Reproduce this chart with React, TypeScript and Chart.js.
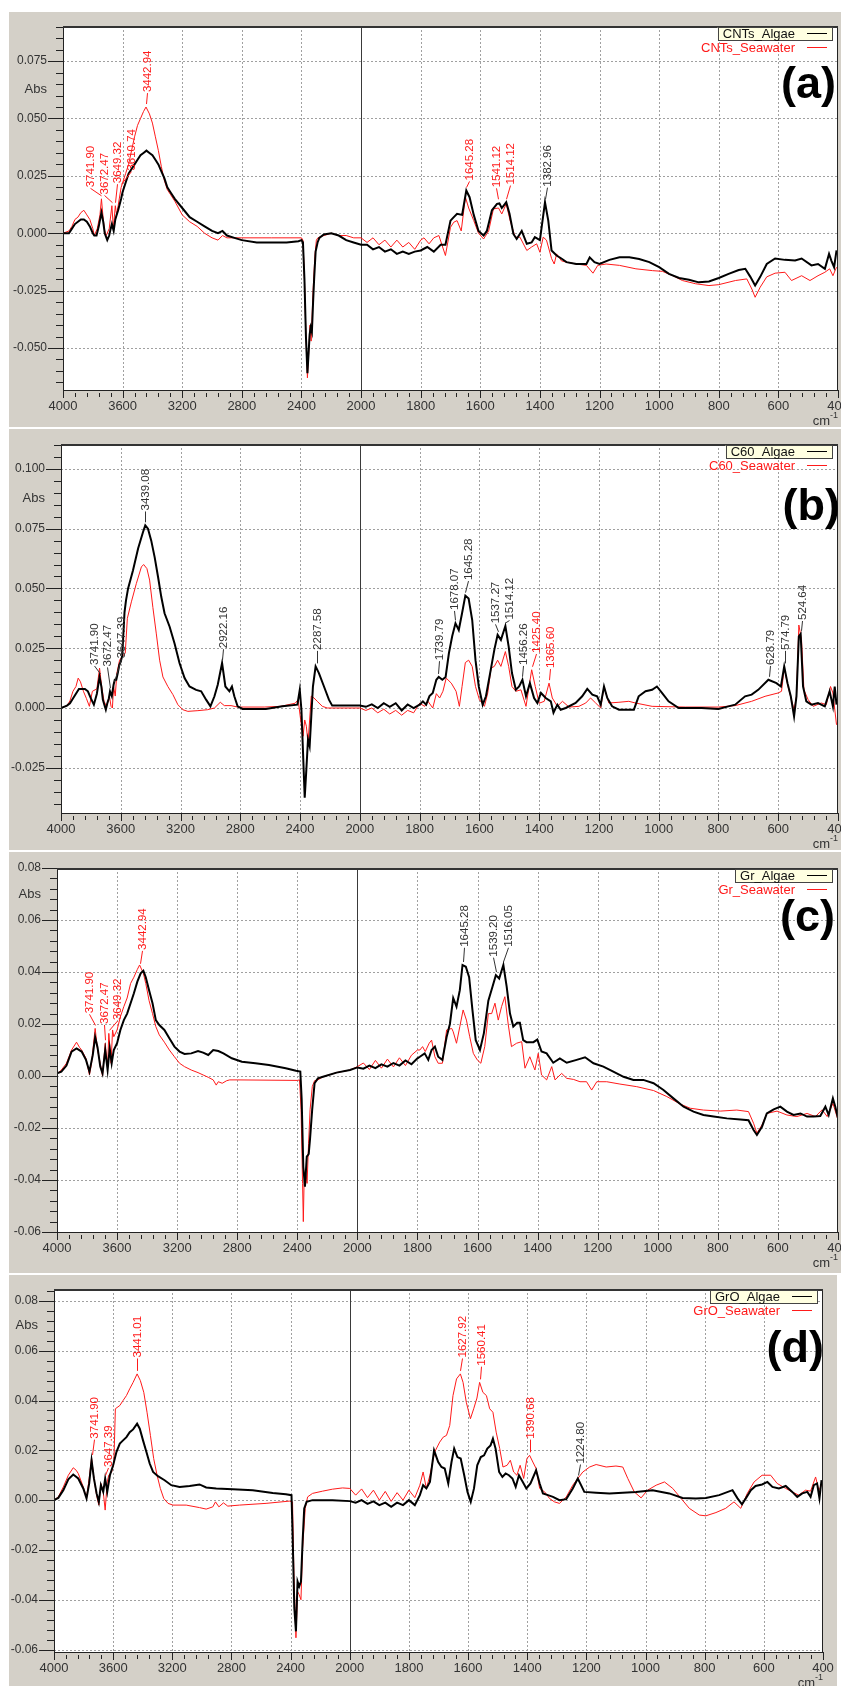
import React, { useEffect, useRef } from 'react';
import { Chart, registerables } from 'chart.js';

Chart.register(...registerables);

const FONT = '"Liberation Sans", Arial, Helvetica, sans-serif';

// ---------- Panel (a): CNTs ----------
const A_ALGAE: [number, number][] = [
  [4000, 0.000], [3960, 0.000], [3940, 0.002], [3920, 0.004], [3880, 0.006], [3860, 0.006], [3840, 0.005], [3820, 0.003],
  [3800, 0.000], [3790, -0.001], [3775, -0.001], [3760, 0.003], [3742, 0.009], [3730, 0.005], [3720, 0.000], [3703, -0.003],
  [3690, -0.001], [3680, 0.002], [3672, 0.004], [3660, 0.001], [3649, 0.006], [3640, 0.008], [3630, 0.010], [3610, 0.015],
  [3600, 0.018], [3580, 0.022], [3560, 0.026], [3540, 0.028], [3520, 0.030], [3500, 0.032], [3480, 0.034], [3460, 0.035],
  [3440, 0.036], [3420, 0.035], [3400, 0.034], [3380, 0.032], [3360, 0.030], [3340, 0.027], [3320, 0.024], [3300, 0.020],
  [3280, 0.018], [3250, 0.015], [3200, 0.011], [3150, 0.007], [3100, 0.005], [3050, 0.003], [3000, 0.001], [2960, 0.000],
  [2930, 0.001], [2900, -0.001], [2850, -0.002], [2800, -0.003], [2700, -0.004], [2600, -0.004], [2500, -0.004], [2420, -0.0035],
  [2400, -0.003], [2390, -0.004], [2380, -0.020], [2370, -0.045], [2360, -0.061], [2352, -0.052], [2345, -0.044], [2338, -0.041],
  [2330, -0.043], [2322, -0.030], [2315, -0.020], [2305, -0.008], [2292, -0.004], [2280, -0.002], [2250, -0.0005], [2200, 0.000],
  [2150, -0.001], [2100, -0.003], [2050, -0.004], [2000, -0.005], [1980, -0.005], [1960, -0.007], [1940, -0.006], [1920, -0.008],
  [1900, -0.007], [1880, -0.009], [1860, -0.008], [1840, -0.009], [1820, -0.008], [1800, -0.0075], [1778, -0.006], [1756, -0.008],
  [1733, -0.005], [1717, -0.005], [1700, 0.0055], [1689, 0.007], [1678, 0.0085], [1661, 0.008], [1647, 0.0186], [1636, 0.0157],
  [1622, 0.008], [1606, 0.001], [1589, -0.001], [1578, 0.001], [1561, 0.010], [1544, 0.0128], [1536, 0.013], [1528, 0.011],
  [1513, 0.0135], [1502, 0.0085], [1489, -0.0003], [1478, -0.0025], [1461, 0.001], [1444, -0.0046], [1428, -0.004], [1417, -0.0017],
  [1400, -0.003], [1383, 0.0135], [1372, 0.0055], [1361, -0.0075], [1344, -0.0097], [1328, -0.011], [1311, -0.0126], [1278, -0.0134],
  [1244, -0.0134], [1233, -0.0105], [1217, -0.0126], [1200, -0.0134], [1167, -0.0116], [1133, -0.0105], [1100, -0.0105], [1067, -0.0112],
  [1033, -0.0126], [1000, -0.0148], [967, -0.0177], [933, -0.0195], [900, -0.0203], [867, -0.0214], [833, -0.021], [800, -0.0195],
  [767, -0.0177], [733, -0.016], [711, -0.0155], [694, -0.019], [678, -0.0228], [661, -0.019], [639, -0.0134], [611, -0.011],
  [578, -0.0116], [544, -0.0119], [522, -0.011], [489, -0.014], [467, -0.0134], [444, -0.0155], [430, -0.009], [422, -0.012],
  [413, -0.0148], [405, -0.0075],
];
const A_SEA: [number, number][] = [
  [4000, 0.000], [3960, 0.001], [3940, 0.003], [3920, 0.006], [3900, 0.007], [3880, 0.009], [3860, 0.010], [3840, 0.008],
  [3820, 0.006], [3800, 0.002], [3790, -0.001], [3770, 0.002], [3752, 0.008], [3742, 0.015], [3730, 0.006], [3720, 0.001],
  [3710, -0.001], [3690, 0.002], [3672, 0.012], [3662, 0.002], [3649, 0.012], [3640, 0.008], [3630, 0.012], [3610, 0.020],
  [3600, 0.022], [3580, 0.026], [3560, 0.030], [3540, 0.036], [3520, 0.042], [3500, 0.047], [3480, 0.050], [3460, 0.053],
  [3443, 0.055], [3420, 0.052], [3400, 0.048], [3380, 0.042], [3360, 0.036], [3340, 0.029], [3320, 0.023], [3300, 0.019],
  [3280, 0.017], [3250, 0.014], [3200, 0.008], [3150, 0.005], [3100, 0.003], [3050, 0.000], [3000, -0.002], [2960, -0.003],
  [2930, -0.001], [2900, -0.002], [2800, -0.002], [2600, -0.002], [2400, -0.002], [2390, -0.003], [2380, -0.020], [2370, -0.045],
  [2360, -0.063], [2350, -0.050], [2343, -0.040], [2335, -0.047], [2322, -0.025], [2310, -0.010], [2300, -0.003], [2290, -0.002],
  [2250, -0.001], [2200, 0.000], [2150, -0.001], [2100, -0.001], [2050, -0.002], [2000, -0.002], [1980, -0.004], [1960, -0.002],
  [1940, -0.005], [1920, -0.003], [1900, -0.006], [1880, -0.003], [1860, -0.006], [1840, -0.004], [1820, -0.007], [1800, -0.003],
  [1789, -0.002], [1772, -0.0046], [1756, -0.002], [1739, -0.001], [1717, -0.0097], [1700, 0.0026], [1689, 0.0048], [1678, 0.0055],
  [1664, 0.001], [1650, 0.0157], [1639, 0.011], [1622, 0.0055], [1606, 0.000], [1589, -0.0025], [1572, 0.001], [1556, 0.0106],
  [1539, 0.011], [1528, 0.0084], [1513, 0.0128], [1500, 0.0055], [1483, -0.0017], [1467, -0.0017], [1444, -0.0075], [1428, -0.006],
  [1411, -0.0046], [1400, -0.0083], [1389, -0.0017], [1378, -0.003], [1361, -0.011], [1352, -0.0134], [1344, -0.009], [1328, -0.012],
  [1311, -0.0126], [1278, -0.0134], [1244, -0.014], [1222, -0.0174], [1206, -0.014], [1178, -0.0134], [1133, -0.014], [1078, -0.0155],
  [1022, -0.0163], [989, -0.0166], [956, -0.0184], [922, -0.0206], [878, -0.022], [833, -0.0228], [800, -0.0224], [744, -0.0206],
  [706, -0.0199], [689, -0.0243], [678, -0.0279], [661, -0.0235], [639, -0.019], [611, -0.0174], [578, -0.017], [556, -0.0206],
  [522, -0.0185], [494, -0.0206], [467, -0.0185], [444, -0.017], [428, -0.0155], [417, -0.0185], [405, -0.0148],
];
// [label, colour, peak wavenumber, peak value, text wavenumber, text start value]
const A_PEAKS: [string, string, number, number, number, number][] = [
  ['3741.90', 'r', 3742, 0.015, 3816, 0.020],
  ['3672.47', 'r', 3672, 0.012, 3726, 0.0169],
  ['3649.32', 'r', 3649, 0.012, 3640, 0.0218],
  ['3610.74', 'r', 3610, 0.020, 3546, 0.0273],
  ['3442.94', 'r', 3443, 0.055, 3436, 0.0615],
  ['1645.28', 'r', 1647, 0.0186, 1639, 0.023],
  ['1541.12', 'r', 1541, 0.0135, 1547, 0.020],
  ['1514.12', 'r', 1514, 0.0135, 1502, 0.0212],
  ['1382.96', 'k', 1383, 0.0135, 1376, 0.0203],
];

// ---------- Panel (b): C60 ----------
const B_ALGAE: [number, number][] = [
  [4000, 0.000], [3960, 0.001], [3940, 0.002], [3920, 0.004], [3900, 0.006], [3880, 0.008], [3860, 0.008], [3840, 0.008],
  [3820, 0.007], [3800, 0.004], [3780, 0.0014], [3760, 0.006], [3742, 0.013], [3730, 0.009], [3720, 0.0035], [3710, 0.0014],
  [3700, -0.0007], [3690, 0.002], [3680, 0.004], [3672, 0.007], [3660, 0.005], [3648, 0.0097], [3640, 0.0118], [3630, 0.0118],
  [3620, 0.0146], [3610, 0.018], [3600, 0.0194], [3590, 0.022], [3575, 0.040], [3565, 0.045], [3551, 0.050], [3518, 0.0576],
  [3484, 0.0667], [3451, 0.0736], [3436, 0.0764], [3418, 0.075], [3396, 0.070], [3373, 0.063], [3351, 0.055], [3329, 0.0465],
  [3307, 0.0396], [3273, 0.034], [3240, 0.027], [3207, 0.0188], [3173, 0.0125], [3140, 0.009], [3096, 0.0076], [3062, 0.007],
  [3029, 0.0035], [3000, 0.0007], [2973, 0.0049], [2951, 0.0097], [2922, 0.0188], [2900, 0.009], [2873, 0.007], [2856, 0.009],
  [2840, 0.0049], [2818, 0.0007], [2785, -0.0004], [2629, -0.0004], [2518, 0.0007], [2418, 0.0014], [2402, 0.0076], [2391, -0.0007],
  [2380, -0.019], [2369, -0.0375], [2358, -0.0257], [2347, -0.0132], [2336, -0.016], [2325, -0.0035], [2314, 0.009], [2296, 0.0174],
  [2274, 0.0146], [2240, 0.009], [2207, 0.0035], [2185, 0.001], [2100, 0.001], [2000, 0.001], [1980, 0.0005], [1960, 0.0015],
  [1940, 0.000], [1920, 0.002], [1900, 0.0005], [1880, 0.002], [1860, -0.001], [1840, 0.0015], [1820, 0.000], [1800, 0.0014],
  [1789, 0.0028], [1778, 0.0014], [1767, 0.005], [1756, 0.0063], [1744, 0.0118], [1736, 0.013], [1724, 0.0118], [1713, 0.013],
  [1702, 0.0229], [1691, 0.030], [1680, 0.0354], [1669, 0.0326], [1658, 0.0396], [1647, 0.047], [1636, 0.0458], [1624, 0.0368],
  [1613, 0.020], [1602, 0.009], [1589, 0.0014], [1578, 0.0049], [1564, 0.0146], [1550, 0.0243], [1539, 0.0306], [1528, 0.0285],
  [1513, 0.0343], [1502, 0.0257], [1491, 0.0146], [1478, 0.0076], [1467, 0.009], [1456, 0.0118], [1444, 0.0049], [1431, 0.0104],
  [1417, 0.0042], [1406, 0.0021], [1394, 0.0063], [1378, 0.0042], [1361, 0.0028], [1352, -0.002], [1339, 0.0014], [1328, -0.0007],
  [1311, 0.000], [1278, 0.0021], [1256, 0.0049], [1239, 0.008], [1222, 0.0056], [1206, 0.0049], [1194, 0.0014], [1183, 0.009],
  [1172, 0.0042], [1156, 0.0007], [1133, -0.0007], [1100, -0.0007], [1083, -0.0007], [1067, 0.0049], [1044, 0.007], [1022, 0.0076],
  [1006, 0.009], [989, 0.0063], [967, 0.0028], [933, 0.000], [856, 0.000], [800, -0.0004], [767, 0.0007], [744, 0.0014],
  [711, 0.0049], [689, 0.0056], [667, 0.0076], [633, 0.0118], [606, 0.0104], [591, 0.009], [580, 0.0174], [569, 0.0104],
  [558, 0.0049], [547, -0.0035], [539, 0.0049], [531, 0.030], [525, 0.031], [517, 0.009], [506, 0.0028], [489, 0.0014],
  [467, 0.0021], [444, 0.0007], [428, 0.007], [417, 0.0007], [411, 0.009], [405, 0.0014],
];
const B_SEA: [number, number][] = [
  [4000, 0.000], [3960, 0.001], [3940, 0.003], [3920, 0.007], [3900, 0.009], [3885, 0.0125], [3870, 0.011], [3850, 0.007],
  [3830, 0.004], [3810, 0.0007], [3790, 0.007], [3760, 0.008], [3742, 0.0167], [3728, 0.009], [3712, 0.0028], [3695, 0.0007],
  [3676, 0.005], [3665, 0.0007], [3656, 0.000], [3648, 0.009], [3637, 0.005], [3626, 0.0146], [3608, 0.020], [3590, 0.0215],
  [3570, 0.023], [3556, 0.0375], [3529, 0.0444], [3496, 0.052], [3462, 0.059], [3447, 0.060], [3425, 0.0583], [3407, 0.0535],
  [3385, 0.042], [3362, 0.031], [3340, 0.020], [3318, 0.013], [3285, 0.009], [3251, 0.0056], [3218, 0.0014], [3185, -0.0007],
  [3151, -0.0014], [3084, -0.0011], [3018, -0.0007], [2973, 0.000], [2934, 0.0024], [2907, 0.001], [2862, 0.001], [2818, 0.0004],
  [2640, 0.0004], [2530, 0.0007], [2433, 0.002], [2413, 0.0035], [2396, -0.005], [2380, -0.0118], [2369, -0.005], [2358, -0.0076],
  [2347, -0.0146], [2336, -0.005], [2325, 0.005], [2307, 0.0042], [2285, 0.0028], [2251, 0.0007], [2218, 0.000], [2100, 0.000],
  [2000, 0.000], [1980, -0.001], [1960, 0.000], [1940, -0.002], [1920, -0.0005], [1900, -0.0025], [1880, -0.001], [1860, -0.003],
  [1840, -0.001], [1820, -0.002], [1800, 0.002], [1783, 0.0007], [1772, 0.0028], [1756, 0.000], [1744, 0.006], [1733, 0.0042],
  [1722, 0.007], [1711, 0.0125], [1694, 0.0104], [1678, 0.007], [1667, 0.0007], [1658, 0.009], [1647, 0.019], [1636, 0.020],
  [1624, 0.0174], [1613, 0.009], [1600, 0.0035], [1583, 0.0007], [1572, 0.0063], [1561, 0.0167], [1550, 0.0174], [1539, 0.020],
  [1528, 0.0174], [1513, 0.0236], [1502, 0.0174], [1491, 0.009], [1478, 0.007], [1461, 0.0076], [1444, 0.0007], [1425, 0.016],
  [1413, 0.009], [1400, 0.002], [1383, 0.0028], [1367, 0.0104], [1356, 0.0042], [1339, 0.0007], [1322, 0.0028], [1300, 0.0004],
  [1267, 0.0007], [1244, 0.0021], [1228, 0.0042], [1211, 0.0021], [1194, 0.000], [1183, 0.009], [1167, 0.0021], [1133, 0.0024],
  [1100, 0.0028], [1078, 0.0021], [1022, 0.0007], [911, 0.0004], [800, 0.0004], [744, 0.001], [689, 0.0028], [644, 0.0049],
  [600, 0.0063], [589, 0.007], [580, 0.0167], [567, 0.009], [556, 0.0035], [547, -0.0007], [539, 0.0049], [531, 0.0347],
  [522, 0.0285], [514, 0.0076], [500, 0.0035], [483, 0.0007], [456, 0.0021], [439, 0.0014], [425, 0.009], [417, 0.0063],
  [405, -0.007],
];
const B_PEAKS: [string, string, number, number, number, number][] = [
  ['3741.90', 'k', 3742, 0.013, 3778, 0.018],
  ['3672.47', 'k', 3672, 0.007, 3689, 0.0174],
  ['3647.39', 'k', 3648, 0.0097, 3596, 0.0208],
  ['3439.08', 'k', 3439, 0.0764, 3436, 0.0826],
  ['2922.16', 'k', 2922, 0.0188, 2913, 0.025],
  ['2287.58', 'k', 2290, 0.0174, 2285, 0.0243],
  ['1739.79', 'k', 1740, 0.013, 1736, 0.020],
  ['1678.07', 'k', 1680, 0.0354, 1686, 0.041],
  ['1645.28', 'k', 1647, 0.047, 1639, 0.0535],
  ['1537.27', 'k', 1539, 0.0306, 1547, 0.0354],
  ['1514.12', 'k', 1513, 0.0343, 1502, 0.037],
  ['1456.26', 'k', 1456, 0.0118, 1453, 0.018],
  ['1425.40', 'r', 1425, 0.016, 1411, 0.023],
  ['1365.60', 'r', 1367, 0.0104, 1364, 0.0167],
  ['628.79', 'k', 630, 0.0118, 628, 0.018],
  ['574.79', 'k', 578, 0.0174, 578, 0.0243],
  ['524.64', 'k', 525, 0.031, 522, 0.0368],
];

// ---------- Panel (c): Gr ----------
const C_ALGAE: [number, number][] = [
  [4000, 0.001], [3971, 0.0017], [3937, 0.004], [3903, 0.0094], [3870, 0.0106], [3836, 0.0094], [3807, 0.0062], [3784, 0.0017],
  [3762, 0.008], [3746, 0.015], [3730, 0.011], [3712, 0.0036], [3697, 0.001], [3679, 0.010], [3663, 0.0023], [3649, 0.0106],
  [3636, 0.0049], [3622, 0.010], [3600, 0.0126], [3578, 0.0177], [3555, 0.0215], [3533, 0.024], [3510, 0.028], [3488, 0.0318],
  [3465, 0.0363], [3443, 0.0395], [3425, 0.0405], [3409, 0.038], [3387, 0.033], [3364, 0.028], [3342, 0.0215], [3319, 0.0196],
  [3285, 0.0177], [3252, 0.0145], [3218, 0.0113], [3184, 0.0094], [3151, 0.0085], [3106, 0.0087], [3061, 0.0096], [3027, 0.009],
  [2993, 0.0081], [2960, 0.010], [2926, 0.0096], [2892, 0.0087], [2836, 0.0068], [2769, 0.0055], [2679, 0.0049], [2589, 0.0042],
  [2477, 0.003], [2409, 0.002], [2380, 0.0017], [2371, -0.009], [2360, -0.035], [2349, -0.0426], [2337, -0.031], [2324, -0.030],
  [2315, -0.024], [2301, -0.013], [2285, -0.0028], [2263, -0.0009], [2229, -0.0003], [2139, 0.0013], [2049, 0.0023], [2000, 0.0033],
  [1980, 0.0028], [1960, 0.004], [1940, 0.003], [1920, 0.0045], [1900, 0.0036], [1880, 0.005], [1860, 0.004], [1840, 0.006],
  [1820, 0.0045], [1800, 0.0068], [1792, 0.0074], [1776, 0.0087], [1764, 0.0062], [1753, 0.010], [1742, 0.0113], [1731, 0.0074],
  [1717, 0.0062], [1703, 0.015], [1692, 0.020], [1681, 0.030], [1670, 0.0267], [1659, 0.033], [1650, 0.0427], [1639, 0.042],
  [1628, 0.038], [1617, 0.0254], [1606, 0.0138], [1592, 0.010], [1579, 0.0164], [1564, 0.029], [1550, 0.0344], [1539, 0.0388],
  [1528, 0.0375], [1514, 0.0427], [1503, 0.0344], [1492, 0.024], [1481, 0.019], [1468, 0.0205], [1459, 0.0205], [1448, 0.0138],
  [1437, 0.013], [1414, 0.013], [1401, 0.014], [1387, 0.0094], [1370, 0.0087], [1348, 0.0051], [1326, 0.0068], [1303, 0.0051],
  [1270, 0.0062], [1242, 0.0072], [1214, 0.0049], [1181, 0.0036], [1148, 0.0017], [1114, -0.0003], [1081, -0.0015], [1048, -0.0015],
  [1014, -0.0028], [981, -0.0054], [948, -0.0086], [914, -0.0118], [881, -0.0137], [848, -0.015], [814, -0.0156], [770, -0.0163],
  [725, -0.0167], [698, -0.017], [681, -0.0208], [670, -0.0227], [653, -0.0195], [637, -0.0144], [614, -0.0128], [592, -0.0118],
  [570, -0.0137], [548, -0.015], [525, -0.0144], [503, -0.0156], [481, -0.0156], [459, -0.0154], [442, -0.0118], [431, -0.015],
  [417, -0.0086], [409, -0.0118], [400, -0.0163],
];
const C_SEA: [number, number][] = [
  [4000, 0.0008], [3971, 0.0023], [3937, 0.0049], [3903, 0.010], [3870, 0.013], [3850, 0.011], [3836, 0.0100], [3807, 0.0068],
  [3784, 0.0004], [3770, 0.0049], [3746, 0.0183], [3730, 0.010], [3712, 0.0049], [3697, 0.000], [3679, 0.0126], [3663, 0.0036],
  [3655, 0.0164], [3640, 0.0049], [3630, 0.0177], [3622, 0.0151], [3600, 0.0177], [3578, 0.0228], [3555, 0.0267], [3533, 0.030],
  [3510, 0.0356], [3488, 0.038], [3465, 0.041], [3450, 0.0427], [3425, 0.0395], [3409, 0.0356], [3387, 0.029], [3364, 0.0240],
  [3342, 0.019], [3319, 0.0158], [3285, 0.013], [3252, 0.010], [3218, 0.0074], [3184, 0.0049], [3151, 0.0036], [3106, 0.0023],
  [3061, 0.0013], [3027, 0.0004], [2993, -0.0005], [2960, -0.0015], [2940, -0.0035], [2926, -0.0022], [2900, -0.0028], [2870, -0.0018],
  [2850, -0.0015], [2800, -0.0015], [2400, -0.0017], [2385, -0.0015], [2375, -0.013], [2365, -0.0413], [2360, -0.056], [2355, -0.041],
  [2345, -0.036], [2335, -0.0413], [2325, -0.026], [2315, -0.013], [2300, -0.004], [2285, -0.0018], [2263, -0.0015], [2229, -0.0003],
  [2139, 0.0013], [2049, 0.0023], [2000, 0.0036], [1980, 0.005], [1960, 0.0025], [1940, 0.006], [1920, 0.003], [1900, 0.0065],
  [1880, 0.0035], [1860, 0.007], [1840, 0.004], [1820, 0.008], [1800, 0.010], [1792, 0.010], [1783, 0.0113], [1774, 0.0094],
  [1761, 0.0126], [1753, 0.0138], [1742, 0.0074], [1731, 0.0049], [1717, 0.0049], [1703, 0.0177], [1686, 0.0183], [1681, 0.017],
  [1670, 0.0126], [1659, 0.019], [1648, 0.0254], [1637, 0.0215], [1626, 0.0151], [1614, 0.0087], [1601, 0.0062], [1589, 0.0049],
  [1576, 0.0113], [1564, 0.024], [1553, 0.024], [1542, 0.028], [1531, 0.0215], [1520, 0.0267], [1509, 0.0305], [1498, 0.020],
  [1487, 0.0113], [1470, 0.0126], [1453, 0.0132], [1442, 0.003], [1426, 0.0074], [1409, 0.0023], [1398, 0.0087], [1387, 0.0004],
  [1370, -0.0015], [1353, 0.0036], [1342, -0.0015], [1320, 0.001], [1303, -0.0009], [1281, -0.0013], [1259, -0.0022], [1237, -0.0022],
  [1220, -0.0054], [1203, -0.0022], [1170, -0.0022], [1126, -0.0031], [1070, -0.0041], [1014, -0.0056], [970, -0.0079], [925, -0.0108],
  [892, -0.0124], [848, -0.0131], [792, -0.0135], [737, -0.0131], [698, -0.0137], [681, -0.0182], [670, -0.0220], [653, -0.0188],
  [637, -0.0144], [603, -0.0135], [570, -0.015], [537, -0.0156], [503, -0.0144], [475, -0.0156], [453, -0.013], [436, -0.0156],
  [417, -0.0105], [400, -0.0169],
];
const C_PEAKS: [string, string, number, number, number, number][] = [
  ['3741.90', 'r', 3746, 0.0183, 3784, 0.0241],
  ['3672.47', 'r', 3679, 0.0126, 3685, 0.020],
  ['3649.32', 'r', 3655, 0.0164, 3600, 0.0215],
  ['3442.94', 'r', 3445, 0.042, 3431, 0.0485],
  ['1645.28', 'k', 1648, 0.0427, 1644, 0.0497],
  ['1539.20', 'k', 1539, 0.0388, 1548, 0.0459],
  ['1516.05', 'k', 1514, 0.0427, 1500, 0.0497],
];

// ---------- Panel (d): GrO ----------
const D_ALGAE: [number, number][] = [
  [4000, 0.000], [3971, 0.0009], [3937, 0.004], [3903, 0.0084], [3870, 0.0103], [3836, 0.0087], [3802, 0.0047], [3780, 0.0007],
  [3762, 0.0067], [3746, 0.016], [3730, 0.0087], [3712, 0.0027], [3697, -0.0007], [3683, 0.006], [3667, 0.0033], [3654, 0.0087],
  [3640, 0.0033], [3622, 0.010], [3600, 0.014], [3578, 0.0193], [3555, 0.0227], [3533, 0.024], [3510, 0.0253], [3488, 0.0273],
  [3465, 0.0284], [3438, 0.0307], [3420, 0.0287], [3398, 0.024], [3375, 0.0193], [3353, 0.0147], [3330, 0.0113], [3297, 0.0096],
  [3252, 0.008], [3207, 0.006], [3151, 0.0053], [3083, 0.0057], [3016, 0.0063], [2971, 0.0051], [2903, 0.0047], [2791, 0.0044],
  [2656, 0.004], [2521, 0.0029], [2432, 0.0024], [2394, 0.002], [2387, -0.0127], [2375, -0.0433], [2364, -0.0527], [2353, -0.0327],
  [2342, -0.0347], [2330, -0.0327], [2319, -0.0167], [2308, -0.0033], [2292, -0.0007], [2252, 0.000], [2117, 0.000], [2000, -0.0004],
  [1980, -0.001], [1960, 0.000], [1940, -0.0015], [1920, -0.0005], [1900, -0.002], [1880, -0.001], [1860, -0.0027], [1840, -0.001],
  [1820, -0.002], [1800, 0.000], [1780, -0.002], [1763, 0.002], [1752, 0.006], [1741, 0.0047], [1729, 0.0073], [1715, 0.020],
  [1701, 0.0153], [1690, 0.0133], [1679, 0.0127], [1667, 0.0067], [1656, 0.0153], [1647, 0.0207], [1636, 0.0173], [1625, 0.0167],
  [1613, 0.010], [1602, 0.0033], [1591, -0.0007], [1580, 0.0047], [1569, 0.014], [1557, 0.0173], [1546, 0.018], [1535, 0.0207],
  [1524, 0.022], [1516, 0.0247], [1507, 0.0207], [1495, 0.0113], [1484, 0.0093], [1473, 0.0107], [1462, 0.010], [1450, 0.0087],
  [1439, 0.0053], [1428, 0.010], [1415, 0.0073], [1403, 0.0047], [1389, 0.0067], [1370, 0.012], [1358, 0.0067], [1347, 0.0027],
  [1330, 0.002], [1313, 0.0013], [1291, 0.000], [1268, 0.0004], [1246, 0.0047], [1229, 0.0087], [1218, 0.006], [1207, 0.0033],
  [1167, 0.003], [1122, 0.0027], [1077, 0.003], [1032, 0.0033], [976, 0.004], [920, 0.0027], [875, 0.0009], [830, 0.0007],
  [796, 0.0009], [751, 0.002], [706, 0.004], [689, 0.0007], [674, -0.0017], [661, 0.0007], [644, 0.004], [628, 0.0057],
  [606, 0.0063], [588, 0.0073], [571, 0.0053], [549, 0.0047], [526, 0.0057], [504, 0.0033], [487, 0.0013], [470, 0.0027],
  [453, 0.0033], [442, 0.0013], [431, 0.006], [420, 0.0067], [412, 0.0007], [405, 0.008],
];
const D_SEA: [number, number][] = [
  [4000, 0.000], [3971, 0.0013], [3937, 0.0053], [3903, 0.010], [3870, 0.013], [3850, 0.012], [3836, 0.0107], [3802, 0.0053],
  [3780, 0.0009], [3762, 0.0087], [3746, 0.0169], [3730, 0.0087], [3712, 0.002], [3697, -0.002], [3683, 0.0067], [3667, 0.0033],
  [3654, -0.004], [3640, 0.0073], [3630, 0.010], [3610, 0.0113], [3595, 0.0153], [3585, 0.0367], [3555, 0.038], [3533, 0.040],
  [3510, 0.042], [3488, 0.0447], [3465, 0.0473], [3438, 0.0507], [3416, 0.048], [3393, 0.0433], [3371, 0.0353], [3348, 0.026],
  [3326, 0.0167], [3303, 0.010], [3281, 0.0047], [3258, 0.0007], [3229, -0.0013], [3196, -0.002], [3106, -0.002], [3016, -0.003],
  [2971, -0.0036], [2926, -0.0027], [2908, -0.0007], [2885, -0.0027], [2854, -0.0011], [2825, -0.0024], [2746, -0.002], [2566, -0.0013],
  [2409, -0.0004], [2387, -0.0007], [2378, -0.0293], [2364, -0.0553], [2353, -0.0367], [2342, -0.038], [2330, -0.040], [2319, -0.0193],
  [2301, -0.0033], [2285, 0.0013], [2252, 0.0027], [2184, 0.0036], [2117, 0.0044], [2049, 0.0049], [2000, 0.0047], [1980, 0.002],
  [1960, 0.0045], [1940, 0.001], [1920, 0.004], [1900, 0.000], [1880, 0.0035], [1860, -0.0005], [1840, 0.003], [1820, 0.000],
  [1800, 0.004], [1780, 0.001], [1763, 0.006], [1752, 0.0113], [1741, 0.0047], [1729, 0.010], [1713, 0.0193], [1696, 0.0233],
  [1684, 0.0253], [1673, 0.026], [1662, 0.030], [1651, 0.042], [1639, 0.0487], [1626, 0.0507], [1617, 0.0473], [1606, 0.0393],
  [1592, 0.0327], [1581, 0.0367], [1570, 0.041], [1561, 0.0473], [1550, 0.0433], [1538, 0.042], [1527, 0.0367], [1516, 0.0353],
  [1505, 0.0273], [1493, 0.0207], [1482, 0.0133], [1468, 0.014], [1457, 0.016], [1446, 0.0113], [1435, 0.010], [1424, 0.014],
  [1412, 0.0087], [1401, 0.0167], [1392, 0.018], [1381, 0.0153], [1370, 0.0127], [1358, 0.0047], [1341, 0.0033], [1325, 0.0007],
  [1308, -0.0007], [1291, -0.0013], [1268, 0.0013], [1246, 0.006], [1229, 0.0087], [1212, 0.0113], [1189, 0.0133], [1167, 0.0143],
  [1133, 0.0133], [1100, 0.0137], [1077, 0.0133], [1060, 0.0087], [1038, 0.0033], [1015, 0.0009], [993, 0.004], [964, 0.006],
  [936, 0.0073], [908, 0.0047], [880, 0.0007], [852, -0.0033], [818, -0.006], [796, -0.0063], [762, -0.005], [729, -0.0033],
  [701, -0.0007], [678, -0.0033], [656, 0.0027], [633, 0.0073], [606, 0.010], [577, 0.010], [555, 0.0067], [526, 0.0047],
  [504, 0.0033], [482, 0.002], [459, 0.004], [442, 0.0036], [425, 0.0093], [414, 0.004], [405, 0.006],
];
const D_PEAKS: [string, string, number, number, number, number][] = [
  ['3741.90', 'r', 3746, 0.0169, 3728, 0.0247],
  ['3647.39', 'r', 3654, 0.0087, 3634, 0.0133],
  ['3441.01', 'r', 3438, 0.0507, 3438, 0.0573],
  ['1627.92', 'r', 1626, 0.0507, 1622, 0.0573],
  ['1560.41', 'r', 1561, 0.0473, 1557, 0.054],
  ['1390.68', 'r', 1392, 0.018, 1390, 0.0247],
  ['1224.80', 'k', 1229, 0.0087, 1221, 0.0147],
];

// axis: 4000-2000 at one scale, 2000-400 at double scale
const X_TICK_LABELS = [4000, 3600, 3200, 2800, 2400, 2000, 1800, 1600, 1400, 1200, 1000, 800, 600, 400];
const toU = (wn: number) => (wn >= 2000 ? 4000 - wn : 2000 + (2000 - wn) * 2);

interface PanelCfg {
  ct: number; ch: number; cl: number; cw: number;
  L: number; T: number; R: number; B: number;
  ymin: number; ymax: number; majors: number[]; minorStep: number; dec: number;
  algae: [number, number][]; sea: [number, number][]; peaks: [string, string, number, number, number, number][];
  algaeName: string; seaName: string; tag: string; tagRight: number; tagCy: number;
}

const PANELS: PanelCfg[] = [
  {
    ct: 12, ch: 415, cl: 9, cw: 832, L: 63, T: 26, R: 838, B: 390,
    ymin: -0.0683, ymax: 0.0903, majors: [-0.05, -0.025, 0, 0.025, 0.05, 0.075], minorStep: 0.005, dec: 3,
    algae: A_ALGAE, sea: A_SEA, peaks: A_PEAKS, algaeName: 'CNTs_Algae', seaName: 'CNTs_Seawater',
    tag: '(a)', tagRight: 836, tagCy: 86,
  },
  {
    ct: 429, ch: 421, cl: 9, cw: 832, L: 61, T: 444, R: 838, B: 813,
    ymin: -0.0439, ymax: 0.1104, majors: [-0.025, 0, 0.025, 0.05, 0.075, 0.1], minorStep: 0.005, dec: 3,
    algae: B_ALGAE, sea: B_SEA, peaks: B_PEAKS, algaeName: 'C60_Algae', seaName: 'C60_Seawater',
    tag: '(b)', tagRight: 840, tagCy: 508,
  },
  {
    ct: 852, ch: 421, cl: 9, cw: 832, L: 57, T: 868, R: 838, B: 1232,
    ymin: -0.06, ymax: 0.08, majors: [-0.06, -0.04, -0.02, 0, 0.02, 0.04, 0.06, 0.08], minorStep: 0.004, dec: 2,
    algae: C_ALGAE, sea: C_SEA, peaks: C_PEAKS, algaeName: 'Gr_Algae', seaName: 'Gr_Seawater',
    tag: '(c)', tagRight: 835, tagCy: 919,
  },
  {
    ct: 1275, ch: 411, cl: 9, cw: 828, L: 54, T: 1289, R: 823, B: 1652,
    ymin: -0.061, ymax: 0.0848, majors: [-0.06, -0.04, -0.02, 0, 0.02, 0.04, 0.06, 0.08], minorStep: 0.004, dec: 2,
    algae: D_ALGAE, sea: D_SEA, peaks: D_PEAKS, algaeName: 'GrO_Algae', seaName: 'GrO_Seawater',
    tag: '(d)', tagRight: 824, tagCy: 1350,
  },
];

const RED = '#ff1a1a';
const INK = '#222';

function makePlugin(cfg: PanelCfg) {
  return {
    id: 'ftirPanel',
    beforeDraw(chart: any) {
      const { ctx, chartArea: ca, scales } = chart;
      const xs = scales.x;
      const ys = scales.y;
      ctx.save();
      ctx.fillStyle = '#ffffff';
      ctx.fillRect(ca.left, ca.top, ca.right - ca.left, ca.bottom - ca.top);
      ctx.strokeStyle = '#a0a0a0';
      ctx.lineWidth = 1;
      ctx.setLineDash([2, 2]);
      for (const w of X_TICK_LABELS) {
        if (w === 4000 || w === 400 || w === 2000) continue;
        const x = Math.round(xs.getPixelForValue(toU(w))) + 0.5;
        ctx.beginPath(); ctx.moveTo(x, ca.top); ctx.lineTo(x, ca.bottom); ctx.stroke();
      }
      for (const v of cfg.majors) {
        const y = Math.round(ys.getPixelForValue(v)) + 0.5;
        ctx.beginPath(); ctx.moveTo(ca.left, y); ctx.lineTo(ca.right, y); ctx.stroke();
      }
      ctx.setLineDash([]);
      const x2 = Math.round(xs.getPixelForValue(toU(2000))) + 0.5;
      ctx.strokeStyle = '#3a3a3a';
      ctx.beginPath(); ctx.moveTo(x2, ca.top); ctx.lineTo(x2, ca.bottom); ctx.stroke();
      ctx.restore();
    },
    afterDatasetsDraw(chart: any) {
      const { ctx, chartArea: ca, scales } = chart;
      const xs = scales.x;
      const ys = scales.y;
      ctx.save();
      // frame
      ctx.strokeStyle = INK;
      ctx.lineWidth = 1;
      ctx.strokeRect(ca.left + 0.5, ca.top + 0.5, ca.right - ca.left - 1, ca.bottom - ca.top);
      ctx.fillStyle = '#333';
      ctx.fillRect(ca.left, ca.top, ca.right - ca.left, 2);
      // x ticks
      ctx.beginPath();
      for (let u = 0; u <= 5200; u += 80) {
        const x = Math.round(xs.getPixelForValue(u)) + 0.5;
        const major = u % 400 === 0;
        ctx.moveTo(x, ca.bottom + (major ? 0 : 3));
        ctx.lineTo(x, ca.bottom + (major ? 8 : 7));
      }
      // y ticks
      const eps = 1e-9;
      for (let v = Math.ceil(cfg.ymin / cfg.minorStep - eps) * cfg.minorStep; v <= cfg.ymax + eps; v += cfg.minorStep) {
        const y = Math.round(ys.getPixelForValue(v)) + 0.5;
        const major = cfg.majors.some((m) => Math.abs(m - v) < 1e-6);
        ctx.moveTo(ca.left - (major ? 15 : 7), y);
        ctx.lineTo(ca.left, y);
      }
      ctx.stroke();

      // "Abs"
      const m = cfg.majors;
      const yAbs = (ys.getPixelForValue(m[m.length - 1]) + ys.getPixelForValue(m[m.length - 2])) / 2;
      ctx.fillStyle = '#333';
      ctx.font = `13px ${FONT}`;
      ctx.textAlign = 'right';
      ctx.textBaseline = 'middle';
      ctx.fillText('Abs', ca.left - 16, yAbs);

      // cm-1
      ctx.font = `9px ${FONT}`;
      const supW = ctx.measureText('-1').width;
      ctx.textAlign = 'left';
      ctx.fillText('-1', ca.right - supW, ca.bottom + 26);
      ctx.font = `13px ${FONT}`;
      ctx.textAlign = 'right';
      ctx.fillText('cm', ca.right - supW, ca.bottom + 31);

      // peak annotations
      ctx.font = `11.5px ${FONT}`;
      ctx.lineWidth = 1;
      for (const [label, col, wn, pv, tw, tv] of cfg.peaks) {
        const c = col === 'r' ? RED : '#333';
        const px = xs.getPixelForValue(toU(wn));
        const py = ys.getPixelForValue(pv);
        const tx = xs.getPixelForValue(toU(tw));
        const ty = ys.getPixelForValue(tv);
        ctx.strokeStyle = c;
        ctx.beginPath();
        ctx.moveTo(Math.round(px) + 0.5, py - 3);
        ctx.lineTo(Math.round(tx) + 0.5, ty + 1);
        ctx.stroke();
        ctx.save();
        ctx.translate(Math.round(tx) + 0.5, ty);
        ctx.rotate(-Math.PI / 2);
        ctx.fillStyle = c;
        ctx.textAlign = 'left';
        ctx.textBaseline = 'middle';
        ctx.fillText(label, 0, 0);
        ctx.restore();
      }

      // legend
      ctx.font = `13px ${FONT}`;
      ctx.textBaseline = 'middle';
      const textRight = ca.right - 43;
      const wA = ctx.measureText(cfg.algaeName).width;
      const boxL = textRight - wA - 5;
      const boxT = ca.top + 1;
      ctx.fillStyle = '#ffffe1';
      ctx.fillRect(boxL, boxT, ca.right - 6 - boxL, 13);
      ctx.strokeStyle = '#444';
      ctx.strokeRect(Math.round(boxL) + 0.5, boxT + 0.5, Math.round(ca.right - 6 - boxL), 13);
      ctx.fillStyle = '#111';
      ctx.textAlign = 'right';
      ctx.fillText(cfg.algaeName, textRight, ca.top + 8);
      ctx.strokeStyle = '#000';
      ctx.beginPath();
      ctx.moveTo(ca.right - 31, ca.top + 7.5); ctx.lineTo(ca.right - 11, ca.top + 7.5);
      ctx.stroke();
      ctx.fillStyle = RED;
      ctx.fillText(cfg.seaName, textRight, ca.top + 22);
      ctx.strokeStyle = RED;
      ctx.beginPath();
      ctx.moveTo(ca.right - 31, ca.top + 21.5); ctx.lineTo(ca.right - 11, ca.top + 21.5);
      ctx.stroke();

      // panel tag
      ctx.fillStyle = '#000';
      ctx.font = `bold 45px ${FONT}`;
      ctx.textAlign = 'right';
      ctx.textBaseline = 'middle';
      ctx.fillText(cfg.tag, cfg.tagRight - cfg.cl, cfg.tagCy - cfg.ct);
      ctx.restore();
    },
  };
}

function Panel({ cfg }: { cfg: PanelCfg }) {
  const ref = useRef<HTMLCanvasElement>(null);
  useEffect(() => {
    const canvas = ref.current;
    if (!canvas) return;
    const L = cfg.L - cfg.cl;
    const T = cfg.T - cfg.ct;
    const R = cfg.R - cfg.cl;
    const B = cfg.B - cfg.ct;
    const chart = new Chart(canvas, {
      type: 'line',
      data: {
        datasets: [
          {
            label: cfg.algaeName,
            data: cfg.algae.map(([w, a]) => ({ x: toU(w), y: a })),
            borderColor: '#000',
            borderWidth: 2,
            pointRadius: 0,
            tension: 0,
            fill: false,
          },
          {
            label: cfg.seaName,
            data: cfg.sea.map(([w, a]) => ({ x: toU(w), y: a })),
            borderColor: RED,
            borderWidth: 1,
            pointRadius: 0,
            tension: 0,
            fill: false,
          },
        ],
      },
      options: {
        responsive: false,
        animation: false,
        devicePixelRatio: 1,
        events: [],
        layout: { padding: { left: 0, top: T, right: cfg.cw - R, bottom: 0 } },
        plugins: { legend: { display: false }, tooltip: { enabled: false } },
        scales: {
          x: {
            type: 'linear',
            min: 0,
            max: 5200,
            grid: { display: false, drawTicks: false },
            border: { display: false },
            ticks: {
              autoSkip: false,
              maxRotation: 0,
              padding: 9,
              color: '#333',
              font: { family: FONT, size: 13 },
              callback: (v: any) => {
                const u = Number(v);
                const w = u <= 2000 ? 4000 - u : 2000 - (u - 2000) / 2;
                return String(Math.round(w));
              },
            },
            afterBuildTicks: (s: any) => {
              s.ticks = X_TICK_LABELS.map((w) => ({ value: toU(w) }));
            },
            afterFit: (s: any) => {
              s.height = cfg.ch - B;
              s.paddingLeft = 0;
              s.paddingRight = 0;
            },
          },
          y: {
            type: 'linear',
            min: cfg.ymin,
            max: cfg.ymax,
            grid: { display: false, drawTicks: false },
            border: { display: false },
            ticks: {
              padding: 16,
              color: '#333',
              font: { family: FONT, size: 12 },
              callback: (v: any) => Number(v).toFixed(cfg.dec),
            },
            afterBuildTicks: (s: any) => {
              s.ticks = cfg.majors.map((v) => ({ value: v }));
            },
            afterFit: (s: any) => {
              s.width = L;
              s.paddingTop = 0;
              s.paddingBottom = 0;
            },
          },
        },
      } as any,
      plugins: [makePlugin(cfg)],
    });
    return () => chart.destroy();
  }, [cfg]);
  return (
    <div
      style={{
        position: 'absolute',
        left: cfg.cl,
        top: cfg.ct,
        width: cfg.cw,
        height: cfg.ch,
        background: '#d4d0c8',
        overflow: 'hidden',
      }}
    >
      <canvas ref={ref} width={cfg.cw} height={cfg.ch} style={{ display: 'block', width: cfg.cw, height: cfg.ch }} />
    </div>
  );
}

export default function App() {
  return (
    <div
      style={{
        position: 'absolute',
        left: 0,
        top: 0,
        width: 841,
        height: 1686,
        background: '#ffffff',
        overflow: 'hidden',
      }}
    >
      {PANELS.map((p) => (
        <Panel key={p.tag} cfg={p} />
      ))}
    </div>
  );
}
